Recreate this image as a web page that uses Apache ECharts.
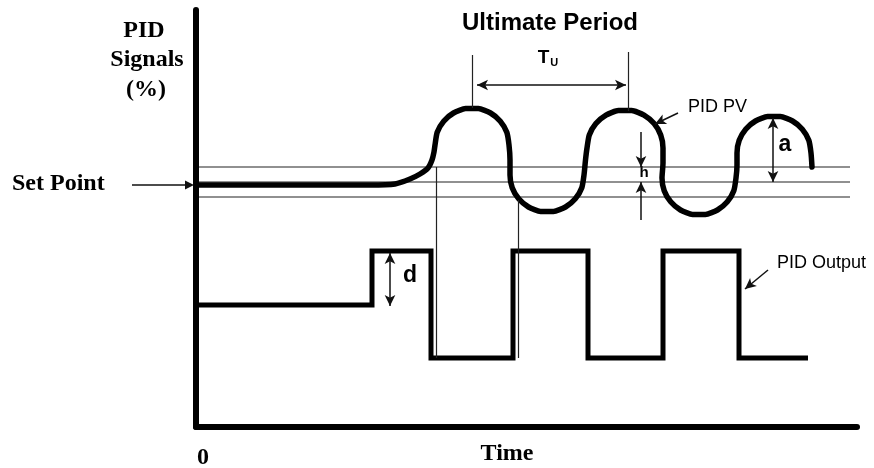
<!DOCTYPE html>
<html>
<head>
<meta charset="utf-8">
<script src="https://cdn.jsdelivr.net/npm/echarts@6/dist/echarts.min.js"></script>
<style>html,body{margin:0;padding:0;background:#fff}#c{width:874px;height:468px}</style>
</head>
<body>
<div id="c"></div>
<script>
// ---- data (arbitrary units: time 0..66.1, signal 0..41.7) ----
var pvTime   = [0.3, 10.4, 17.4, 19.9, 21.4, 22.4, 23.2, 23.6, 23.8, 23.9, 24.12, 24.77, 25.75, 26.96, 28.24, 29.45, 30.43, 31.08, 31.3, 31.4, 31.4, 31.62, 32.27, 33.25, 34.46, 35.74, 36.95, 37.93, 38.58, 38.8, 38.95, 39.1, 39.33, 39.99, 41.0, 42.24, 43.56, 44.8, 45.81, 46.47, 46.7, 46.7, 46.6, 46.82, 47.47, 48.45, 49.66, 50.94, 52.15, 53.13, 53.78, 54.0, 54.1, 54.1, 54.32, 54.97, 55.95, 57.16, 58.44, 59.65, 60.63, 61.28, 61.5, 61.6];
var pvSignal = [24.2, 24.2, 24.2, 24.3, 24.8, 25.3, 25.9, 26.7, 27.5, 28.2, 29.47, 30.58, 31.4, 31.84, 31.84, 31.4, 30.58, 29.47, 28.2, 26.7, 25.2, 23.93, 22.82, 22.0, 21.56, 21.56, 22.0, 22.82, 23.93, 25.2, 26.7, 27.9, 29.2, 30.34, 31.19, 31.64, 31.64, 31.19, 30.34, 29.2, 27.9, 26.4, 24.9, 23.63, 22.52, 21.7, 21.26, 21.26, 21.7, 22.52, 23.63, 24.9, 26.2, 27.4, 28.67, 29.78, 30.6, 31.04, 31.04, 30.6, 29.78, 28.67, 27.4, 26.0];
var outTime  = [0.3, 17.6, 23.5, 31.7, 39.2, 46.7, 54.3, 61.2];
var outLevel = [12.2, 17.6, 6.9, 17.6, 6.9, 17.6, 6.9, 6.9];
var bandLevels = [26.0, 24.5, 23.0];   // upper band, set point, lower band
var bandRange  = [0.3, 65.4];
var peakTimes  = [27.6, 43.2];
var peakLevels = [31.9, 31.6];
var periodLevel = 34.2, periodRange = [28.1, 43.0], periodTop = [37.2, 37.5];
var dropTimes  = [24.0, 32.2];
var dropTops   = [26.0, 22.7];
var hTime = 44.5, hArrowStarts = [29.5, 20.7];
var aTime = 57.7, aRange = [30.9, 24.5];
var dTime = 19.4, dRange = [17.4, 12.1];
var pvPointer  = [[48.2, 31.4], [45.9, 30.3]];
var outPointer = [[57.2, 15.7], [54.9, 13.8]];

function zip(a, b) { return a.map(function (v, i) { return [v, b[i]]; }); }

var thin = { color: '#222', width: 1.2, type: 'solid' };
var arr = { color: '#111', width: 1.5, type: 'solid' };
function seg(p1, p2, s1, s2, style) {
  return [
    { coord: p1, symbol: s1 ? 'arrow' : 'none', symbolSize: [8, 11] },
    { coord: p2, symbol: s2 ? 'arrow' : 'none', symbolSize: [8, 11], lineStyle: style }
  ];
}
var marks = [
  seg([peakTimes[0], peakLevels[0]], [peakTimes[0], periodTop[0]], 0, 0, thin),
  seg([peakTimes[1], peakLevels[1]], [peakTimes[1], periodTop[1]], 0, 0, thin),
  seg([periodRange[0], periodLevel], [periodRange[1], periodLevel], 1, 1, arr),
  seg([dropTimes[0], dropTops[0]], [dropTimes[0], outLevel[2]], 0, 0, thin),
  seg([dropTimes[1], dropTops[1]], [dropTimes[1], outLevel[2]], 0, 0, thin),
  seg([hTime, hArrowStarts[0]], [hTime, bandLevels[0]], 0, 1, arr),
  seg([hTime, hArrowStarts[1]], [hTime, bandLevels[1]], 0, 1, arr),
  seg([aTime, aRange[0]], [aTime, aRange[1]], 1, 1, arr),
  seg([dTime, dRange[0]], [dTime, dRange[1]], 1, 1, arr),
  seg(pvPointer[0], pvPointer[1], 0, 1, arr),
  seg(outPointer[0], outPointer[1], 0, 1, arr)
];

var serif = '"Liberation Serif", "DejaVu Serif", serif';
var sans = '"Liberation Sans", Arial, sans-serif';
function txt(t, x, y, font, align) {
  return { type: 'text', style: { text: t, x: x, y: y, font: font, fill: '#000', align: align || 'center', verticalAlign: 'middle' } };
}

var series = bandLevels.map(function (lv) {
  return { type: 'line', data: [[bandRange[0], lv], [bandRange[1], lv]], symbol: 'none',
    lineStyle: { color: '#222', width: 1.2 }, silent: true, z: 1 };
});
series.push({ type: 'line', data: zip(pvTime, pvSignal), symbol: 'none', smooth: 0.2,
  lineStyle: { color: '#000', width: 5.5, cap: 'round', join: 'round' }, z: 3 });
series.push({ type: 'line', data: zip(outTime, outLevel), symbol: 'none', step: 'end',
  lineStyle: { color: '#000', width: 5, cap: 'butt', join: 'miter' }, z: 3 });
series.push({ type: 'line', data: [], z: 2,
  markLine: { silent: true, symbol: ['none', 'none'], label: { show: false }, animation: false,
    emphasis: { disabled: true }, lineStyle: thin, data: marks } });

var chart = echarts.init(document.getElementById('c'));
chart.setOption({
  animation: false,
  backgroundColor: '#fff',
  grid: { left: 196, right: 17, top: 10, bottom: 41 },
  xAxis: { type: 'value', min: 0, max: 66.1, axisLine: { show: true, lineStyle: { color: '#000', width: 6 } },
    axisTick: { show: false }, axisLabel: { show: false }, splitLine: { show: false } },
  yAxis: { type: 'value', min: 0, max: 41.7, axisLine: { show: true, lineStyle: { color: '#000', width: 6 } },
    axisTick: { show: false }, axisLabel: { show: false }, splitLine: { show: false } },
  series: series,
  graphic: [
    txt('PID', 144, 31, 'bold 24px ' + serif),
    txt('Signals', 147, 60, 'bold 24px ' + serif),
    txt('(%)', 146, 90, 'bold 24px ' + serif),
    txt('Set Point', 12, 184, 'bold 24px ' + serif, 'left'),
    { type: 'line', shape: { x1: 132, y1: 185, x2: 186, y2: 185 }, style: { stroke: '#111', lineWidth: 1.5 } },
    { type: 'polygon', shape: { points: [[185, 180.5], [194, 185], [185, 189.5]] }, style: { fill: '#111' } },
    txt('0', 203, 458, 'bold 24px ' + serif),
    txt('Time', 507, 454, 'bold 24px ' + serif),
    txt('Ultimate Period', 550, 23, 'bold 24px ' + sans),
    { type: 'text', style: { text: '{t|T}{u|U}', x: 548, y: 58, align: 'center', verticalAlign: 'middle',
        rich: { t: { font: 'bold 19px ' + sans, fill: '#000' }, u: { font: 'bold 11px ' + sans, fill: '#000', padding: [10, 0, 0, 1] } } } },
    txt('PID PV', 688, 107, '18px ' + sans, 'left'),
    txt('PID Output', 777, 263, '18px ' + sans, 'left'),
    txt('a', 785, 145, 'bold 23px ' + sans),
    txt('h', 644, 173, 'bold 15px ' + sans),
    txt('d', 410, 276, 'bold 23px ' + sans)
  ]
});
</script>
</body>
</html>
